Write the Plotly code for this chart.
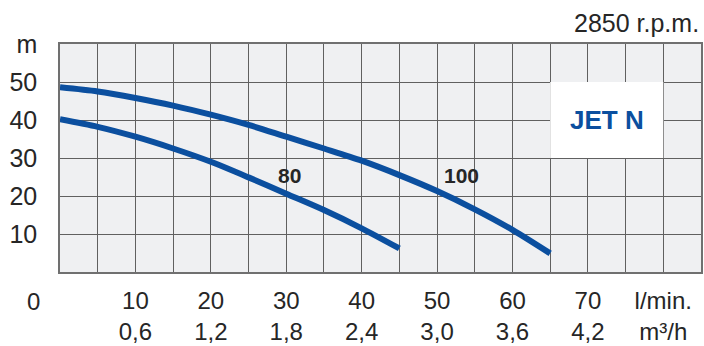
import plotly.graph_objects as go

# Flow (l/min) and head (m) for the two curves
flow_80 = [0, 5, 10, 15, 20, 25, 30, 35, 40, 45]
head_80 = [40.2, 38.2, 35.6, 32.5, 29.0, 24.9, 20.6, 16.3, 11.5, 6.2]

flow_100 = [0, 5, 10, 15, 20, 25, 30, 35, 40, 45, 50, 55, 60, 65]
head_100 = [48.6, 47.5, 45.8, 43.8, 41.4, 38.7, 35.6, 32.5, 29.3, 25.5, 21.3, 16.5, 11.1, 4.9]

x_tick_vals = [10, 20, 30, 40, 50, 60, 70, 80]
x_tick_lmin = ["10", "20", "30", "40", "50", "60", "70", "l/min."]
x_tick_m3h = ["0,6", "1,2", "1,8", "2,4", "3,0", "3,6", "4,2", "m³/h"]
y_tick_vals = [10, 20, 30, 40, 50, 60]
y_tick_text = ["10", "20", "30", "40", "50", "m"]

BLUE = "#0b4f9f"
TXT = "#262626"
GRID = "#606060"
FONT = "Liberation Sans, Arial, sans-serif"

fig = go.Figure()
fig.add_trace(go.Scatter(x=flow_80, y=head_80, mode="lines",
                         line=dict(color=BLUE, width=6, shape="spline", smoothing=0.8),
                         showlegend=False, hoverinfo="skip"))
fig.add_trace(go.Scatter(x=flow_100, y=head_100, mode="lines",
                         line=dict(color=BLUE, width=6, shape="spline", smoothing=0.8),
                         showlegend=False, hoverinfo="skip"))

# white box behind model name
fig.add_shape(type="rect", x0=65, x1=80, y0=30, y1=50, xref="x", yref="y",
              fillcolor="white", line=dict(width=0), layer="between")

fig.add_annotation(x=72.5, y=40, xref="x", yref="y", text="<b>JET N</b>",
                   showarrow=False, font=dict(family=FONT, size=26, color=BLUE))
fig.add_annotation(x=30.4, y=25.5, xref="x", yref="y", text="<b>80</b>",
                   showarrow=False, font=dict(family=FONT, size=21, color=TXT))
fig.add_annotation(x=53.2, y=25.5, xref="x", yref="y", text="<b>100</b>",
                   showarrow=False, font=dict(family=FONT, size=21, color=TXT))
fig.add_annotation(x=1, y=1.092, xref="paper", yref="paper", text="2850 r.p.m.",
                   xanchor="right", yanchor="middle", showarrow=False,
                   font=dict(family=FONT, size=25, color=TXT))
fig.add_annotation(x=-0.041, y=-0.129, xref="paper", yref="paper", text="0",
                   xanchor="center", yanchor="middle", showarrow=False,
                   font=dict(family=FONT, size=24, color=TXT))

fig.update_layout(
    width=704, height=346,
    margin=dict(l=60, r=1, t=44, b=74),
    paper_bgcolor="white", plot_bgcolor="#eff0f2",
    font=dict(family=FONT, color=TXT),
    xaxis=dict(range=[0, 85], tickvals=x_tick_vals,
               ticktext=[a + "<br>" + b for a, b in zip(x_tick_lmin, x_tick_m3h)],
               tickfont=dict(size=24, color=TXT), ticks="", ticklabelstandoff=6,
               showgrid=True, gridcolor=GRID, gridwidth=1,
               minor=dict(tickvals=list(range(0, 86, 5)), showgrid=True,
                          gridcolor=GRID, gridwidth=1),
               showline=True, mirror=True, linecolor="#707070", linewidth=1.5,
               zeroline=False, fixedrange=True),
    yaxis=dict(range=[0, 60], tickvals=y_tick_vals, ticktext=y_tick_text,
               tickfont=dict(size=25, color=TXT), ticks="", ticklabelstandoff=16,
               showgrid=True, gridcolor=GRID, gridwidth=1,
               showline=True, mirror=True, linecolor="#707070", linewidth=1.5,
               zeroline=False, fixedrange=True),
)

fig.write_html("out.html", config={"displayModeBar": False},
               post_script="document.body.style.margin='0';document.body.style.overflow='hidden';")
